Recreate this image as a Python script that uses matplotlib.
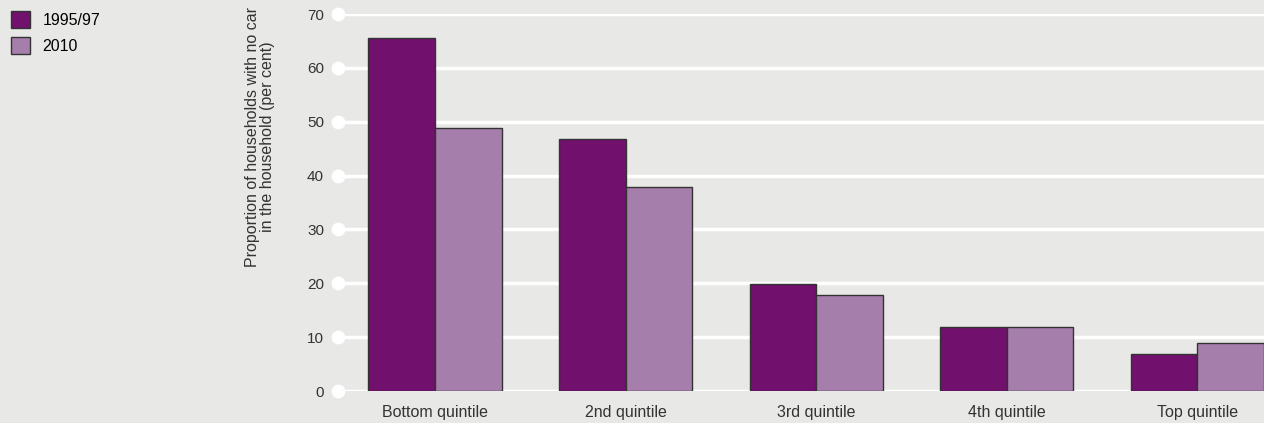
import numpy as np
import matplotlib.pyplot as plt

plt.rcParams['font.family'] = ['Liberation Sans', 'DejaVu Sans']

categories = ['Bottom quintile', '2nd quintile', '3rd quintile', '4th quintile', 'Top quintile']
y1995 = [65.5, 46.8, 19.9, 11.9, 6.9]
y2010 = [48.8, 37.9, 17.8, 11.9, 8.9]
yticks = [0, 10, 20, 30, 40, 50, 60, 70]

bg = '#e8e9e6'
c1 = '#72106e'
c2 = '#a67eab'

fig = plt.figure(figsize=(12.64, 4.23), dpi=100, facecolor=bg)
ax = fig.add_axes([338/1264, 32/423, 926/1264, 377/423], facecolor=bg)

x = np.arange(len(categories))
w = 0.35
ax.bar(x - w/2, y1995, w, color=c1, edgecolor='#333333', linewidth=1, zorder=3, label='1995/97')
ax.bar(x + w/2, y2010, w, color=c2, edgecolor='#333333', linewidth=1, zorder=3, label='2010')

ax.set_xlim(-0.51, 4.35)
ax.set_ylim(0, 70)
for t in yticks:
    ax.axhline(t, color='white', linewidth=2.5, zorder=1)
ax.scatter([-0.51]*len(yticks), yticks, s=80, color='white', zorder=2, clip_on=False)

ax.set_yticks(yticks)
ax.set_yticklabels([str(t) for t in yticks], fontsize=11, color='#333333')
ax.tick_params(axis='y', length=0, pad=10)
ax.set_xticks(x)
ax.set_xticklabels(categories, fontsize=11.5, color='#333333')
ax.tick_params(axis='x', length=0, pad=10)
for s in ax.spines.values():
    s.set_visible(False)

fig.text(260/1264, 1 - 137/423, 'Proportion of households with no car\nin the household (per cent)',
         rotation=90, ha='center', va='center', fontsize=11.5, color='#333333', linespacing=1.05)

fig.legend(loc='upper left', bbox_to_anchor=(0.0, 1.0), frameon=False, fontsize=11.5,
           handlelength=1.2, handleheight=1.2, handletextpad=0.75, labelspacing=0.6,
           borderaxespad=0.4, borderpad=0.3)

fig.savefig('out.png', dpi=100, facecolor=bg)
